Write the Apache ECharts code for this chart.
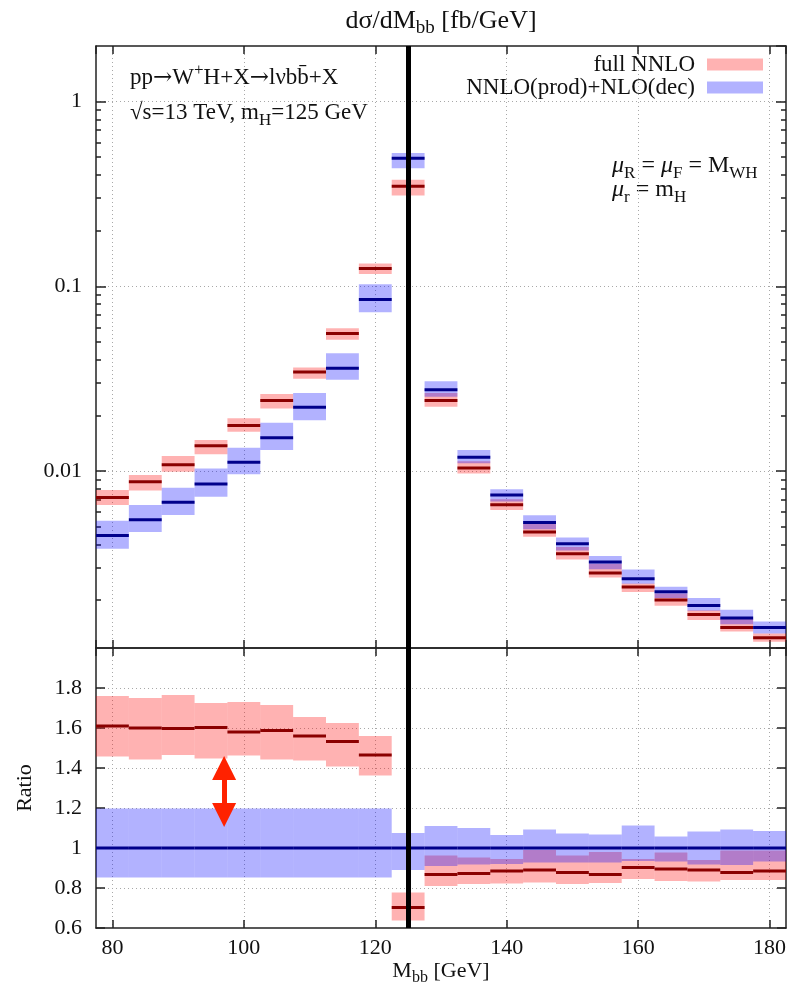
<!DOCTYPE html>
<html>
<head>
<meta charset="utf-8">
<script src="https://cdn.jsdelivr.net/npm/echarts@6/dist/echarts.min.js"></script>
<style>
  html, body { margin: 0; padding: 0; background: #fff; }
  #chart { width: 787px; height: 983px; }
</style>
</head>
<body>
<div id="chart"></div>
<script>
// bin centres, 5 GeV wide
const binCenters = [80, 85, 90, 95, 100, 105, 110, 115, 120, 125, 130, 135, 140, 145, 150, 155, 160, 165, 170, 175, 180];

// d sigma / dM_bb [fb/GeV]
const fullNNLO     = [0.00718, 0.00875, 0.0108, 0.0137, 0.0176, 0.0241, 0.0343, 0.0555, 0.1247, 0.348, 0.0241, 0.01038, 0.00657, 0.00467, 0.00356, 0.0028, 0.00235, 0.0020, 0.00167, 0.00142, 0.00125];
const fullNNLOLow  = [0.00655, 0.00783, 0.0099, 0.0123, 0.0163, 0.0218, 0.0316, 0.0513, 0.1165, 0.310, 0.0223, 0.0097, 0.00614, 0.0044, 0.00332, 0.00265, 0.00221, 0.00186, 0.00156, 0.00135, 0.00119];
const fullNNLOHigh = [0.00789, 0.00951, 0.01205, 0.0147, 0.0193, 0.0261, 0.0363, 0.0593, 0.1327, 0.377, 0.0264, 0.0113, 0.00703, 0.0052, 0.00387, 0.00314, 0.00246, 0.00217, 0.00176, 0.00158, 0.00132];

const prodDec      = [0.00447, 0.00545, 0.00677, 0.0085, 0.01114, 0.01514, 0.0221, 0.036, 0.0848, 0.494, 0.0275, 0.01186, 0.00742, 0.00526, 0.00403, 0.00321, 0.00261, 0.00222, 0.00187, 0.0016, 0.00142];
const prodDecLow   = [0.00379, 0.00467, 0.00578, 0.00726, 0.0096, 0.0130, 0.0188, 0.0312, 0.0723, 0.436, 0.0252, 0.0110, 0.00684, 0.00484, 0.00371, 0.00294, 0.00245, 0.00205, 0.00175, 0.00148, 0.00132];
const prodDecHigh  = [0.00537, 0.00655, 0.0081, 0.0103, 0.01337, 0.01825, 0.0264, 0.0434, 0.1025, 0.526, 0.0306, 0.0130, 0.00796, 0.00576, 0.00436, 0.00346, 0.00293, 0.00236, 0.00205, 0.00177, 0.00153];

// ratio to NNLO(prod)+NLO(dec)
const ratioFull      = [1.61, 1.60, 1.598, 1.603, 1.58, 1.587, 1.56, 1.533, 1.465, 0.703, 0.868, 0.873, 0.885, 0.89, 0.878, 0.868, 0.903, 0.895, 0.89, 0.878, 0.885];
const ratioFullLow   = [1.457, 1.443, 1.465, 1.448, 1.462, 1.442, 1.437, 1.407, 1.363, 0.638, 0.81, 0.82, 0.823, 0.827, 0.82, 0.825, 0.845, 0.835, 0.832, 0.84, 0.84];
const ratioFullHigh  = [1.76, 1.75, 1.765, 1.725, 1.73, 1.715, 1.655, 1.625, 1.56, 0.777, 0.962, 0.953, 0.945, 0.99, 0.962, 0.98, 0.945, 0.977, 0.94, 0.988, 0.988];
const ratioProd      = [1, 1, 1, 1, 1, 1, 1, 1, 1, 1, 1, 1, 1, 1, 1, 1, 1, 1, 1, 1, 1];
const ratioProdLow   = [0.853, 0.853, 0.853, 0.853, 0.853, 0.853, 0.853, 0.853, 0.853, 0.89, 0.91, 0.918, 0.92, 0.928, 0.927, 0.927, 0.935, 0.932, 0.918, 0.915, 0.932];
const ratioProdHigh  = [1.198, 1.198, 1.198, 1.198, 1.198, 1.198, 1.198, 1.198, 1.198, 1.075, 1.11, 1.10, 1.065, 1.093, 1.072, 1.068, 1.112, 1.057, 1.082, 1.092, 1.085];

const logMinorTicks = [0.002, 0.003, 0.004, 0.005, 0.006, 0.007, 0.008, 0.009,
                       0.02, 0.03, 0.04, 0.05, 0.06, 0.07, 0.08, 0.09,
                       0.2, 0.3, 0.4, 0.5, 0.6, 0.7, 0.8, 0.9];

const M_H = 125;
const arrowX = 97, arrowTop = 1.40, arrowBottom = 1.165;

const X_MIN = 77.5, X_MAX = 182.5, HALF_BIN = 2.5;
const serif = "'Liberation Serif', 'Times New Roman', serif";
const ink = '#111';
const frame = { color: '#222', width: 1.5 };
const gridLine = { color: '#a8a8a8', width: 1, type: [1, 3] };
const RED_BAND = 'rgba(255,0,0,0.3)', RED_LINE = '#8b0000';
const BLUE_BAND = 'rgba(0,0,255,0.3)', BLUE_LINE = '#00008b';

function rich(size, lh) {
  const sub = Math.round(size * 0.72);
  return {
    n: { fontSize: size, fontFamily: serif, fill: ink, color: ink, lineHeight: lh, verticalAlign: 'middle' },
    i: { fontSize: size, fontFamily: serif, fontStyle: 'italic', fill: ink, color: ink, lineHeight: lh, verticalAlign: 'middle' },
    a: { fontSize: size, fontFamily: "'DejaVu Serif', serif", fill: ink, color: ink, lineHeight: lh, verticalAlign: 'middle' },
    s: { fontSize: sub, fontFamily: serif, fill: ink, color: ink, lineHeight: lh, verticalAlign: 'bottom' },
    p: { fontSize: sub, fontFamily: serif, fill: ink, color: ink, lineHeight: lh, verticalAlign: 'top' }
  };
}

function xAxis(grid, pos, labels, name) {
  return {
    type: 'value', gridIndex: grid, position: pos, min: X_MIN, max: X_MAX, splitNumber: 5,
    name: name || '', nameLocation: 'middle', nameGap: 24,
    nameTextStyle: { rich: rich(22, 30) },
    axisLine: { onZero: false, lineStyle: frame },
    axisTick: { inside: true, length: 8, lineStyle: frame },
    axisLabel: { show: labels, showMinLabel: false, showMaxLabel: false, margin: 9,
                 fontFamily: serif, fontSize: 22, color: ink },
    splitLine: { show: pos === 'bottom', showMinLine: false, showMaxLine: false, lineStyle: gridLine }
  };
}

function logAxis(pos, major) {
  return {
    type: 'log', logBase: 10, gridIndex: 0, position: pos, min: 0.0011, max: 2,
    axisLine: { show: major, onZero: false, lineStyle: frame },
    axisTick: major ? { inside: true, length: 10, lineStyle: frame }
                    : { inside: true, length: 5, lineStyle: frame, customValues: logMinorTicks },
    axisLabel: { show: major && pos === 'left', showMinLabel: false, showMaxLabel: false, margin: 14,
                 fontFamily: serif, fontSize: 22, color: ink,
                 formatter: v => String(+v.toPrecision(3)) },
    splitLine: { show: major && pos === 'left', showMinLine: false, showMaxLine: false, lineStyle: gridLine }
  };
}

function ratioAxis(pos) {
  return {
    type: 'value', gridIndex: 1, position: pos, min: 0.6, max: 2.0, interval: 0.2,
    name: pos === 'left' ? 'Ratio' : '', nameLocation: 'middle', nameGap: 60, nameRotate: 90,
    nameTextStyle: { fontFamily: serif, fontSize: 22, color: ink },
    axisLine: { onZero: false, lineStyle: frame },
    axisTick: { inside: true, length: 9, lineStyle: frame },
    axisLabel: { show: pos === 'left', showMaxLabel: false, margin: 14,
                 fontFamily: serif, fontSize: 22, color: ink,
                 formatter: v => String(Math.round(v * 10) / 10) },
    splitLine: { show: pos === 'left', showMinLine: false, showMaxLine: false, lineStyle: gridLine }
  };
}

function binSeries(name, xIdx, yIdx, lo, hi, mid, band, line, z) {
  return {
    type: 'custom', name: name, xAxisIndex: xIdx, yAxisIndex: yIdx, z: z, silent: true,
    itemStyle: { color: band },
    encode: { x: 0, y: [1, 2, 3] },
    data: binCenters.map((c, i) => [c, lo[i], hi[i], mid[i]]),
    renderItem: function (params, api) {
      const x = api.value(0);
      const tl = api.coord([x - HALF_BIN, api.value(2)]);
      const br = api.coord([x + HALF_BIN, api.value(1)]);
      const ml = api.coord([x - HALF_BIN, api.value(3)]);
      const mr = api.coord([x + HALF_BIN, api.value(3)]);
      return {
        type: 'group',
        children: [
          { type: 'rect', shape: { x: tl[0], y: tl[1], width: br[0] - tl[0], height: br[1] - tl[1] },
            style: { fill: band } },
          { type: 'line', z2: 5, shape: { x1: ml[0], y1: ml[1], x2: mr[0], y2: mr[1] },
            style: { stroke: line, lineWidth: 3 } }
        ]
      };
    }
  };
}

function higgsLine(xIdx, yIdx) {
  return {
    type: 'line', xAxisIndex: xIdx, yAxisIndex: yIdx, data: [], z: 10, silent: true,
    markLine: {
      silent: true, symbol: 'none', animation: false, label: { show: false },
      lineStyle: { color: '#000', width: 5, type: 'solid' },
      data: [{ xAxis: M_H }]
    }
  };
}

const chart = echarts.init(document.getElementById('chart'), null, { renderer: 'canvas' });

chart.setOption({
  animation: false,
  backgroundColor: '#fff',
  grid: [
    { left: 96, top: 46, right: 1, height: 602, outerBoundsMode: 'none' },
    { left: 96, top: 648, right: 1, height: 280, outerBoundsMode: 'none' }
  ],
  xAxis: [
    xAxis(0, 'bottom', false),
    xAxis(0, 'top', false),
    xAxis(1, 'bottom', true, '{n|M}{s|bb}{n| [GeV]}'),
    xAxis(1, 'top', false)
  ],
  yAxis: [
    logAxis('left', true),
    logAxis('right', true),
    logAxis('left', false),
    logAxis('right', false),
    ratioAxis('left'),
    ratioAxis('right')
  ],
  legend: {
    data: ['full NNLO', 'NNLO(prod)+NLO(dec)'],
    orient: 'vertical', right: 24, top: 53, align: 'right',
    itemWidth: 56, itemHeight: 12, itemGap: 0, padding: 0, icon: 'rect',
    selectedMode: false,
    textStyle: { fontFamily: serif, fontSize: 23, color: ink, padding: [0, 7, 0, 0] }
  },
  graphic: [
    { type: 'text', x: 441, y: 21, silent: true,
      style: { text: '{n|d\u03c3/dM}{s|bb}{n| [fb/GeV]}', align: 'center', verticalAlign: 'middle', rich: rich(26, 34) } },
    { type: 'text', x: 130, y: 78, silent: true,
      style: { text: '{n|pp}{a|\u2192}{n|W}{p|+}{n|H+X}{a|\u2192}{n|l\u03bdbb\u0304+X}', align: 'left', verticalAlign: 'middle', rich: rich(23, 32) } },
    { type: 'text', x: 130, y: 113, silent: true,
      style: { text: '{n|\u221as=13 TeV, m}{s|H}{n|=125 GeV}', align: 'left', verticalAlign: 'middle', rich: rich(23, 32) } },
    { type: 'text', x: 612, y: 166, silent: true,
      style: { text: '{i|\u03bc}{s|R}{n| = }{i|\u03bc}{s|F}{n| = M}{s|WH}', align: 'left', verticalAlign: 'middle', rich: rich(24, 32) } },
    { type: 'text', x: 612, y: 190, silent: true,
      style: { text: '{i|\u03bc}{s|r}{n| = m}{s|H}', align: 'left', verticalAlign: 'middle', rich: rich(24, 32) } }
  ],
  series: [
    binSeries('full NNLO', 0, 0, fullNNLOLow, fullNNLOHigh, fullNNLO, RED_BAND, RED_LINE, 2),
    binSeries('NNLO(prod)+NLO(dec)', 0, 0, prodDecLow, prodDecHigh, prodDec, BLUE_BAND, BLUE_LINE, 3),
    binSeries('full NNLO', 2, 4, ratioFullLow, ratioFullHigh, ratioFull, RED_BAND, RED_LINE, 2),
    binSeries('NNLO(prod)+NLO(dec)', 2, 4, ratioProdLow, ratioProdHigh, ratioProd, BLUE_BAND, BLUE_LINE, 3),
    higgsLine(0, 0),
    higgsLine(2, 4),
    {
      type: 'line', xAxisIndex: 2, yAxisIndex: 4, data: [], z: 11, silent: true,
      markLine: {
        silent: true, animation: false, symbol: ['triangle', 'triangle'], symbolSize: 24,
        label: { show: false },
        lineStyle: { color: '#ff2200', width: 5, type: 'solid', opacity: 1 },
        itemStyle: { color: '#ff2200' },
        data: [[{ coord: [arrowX, arrowTop] }, { coord: [arrowX, arrowBottom] }]]
      }
    }
  ]
});
</script>
</body>
</html>
